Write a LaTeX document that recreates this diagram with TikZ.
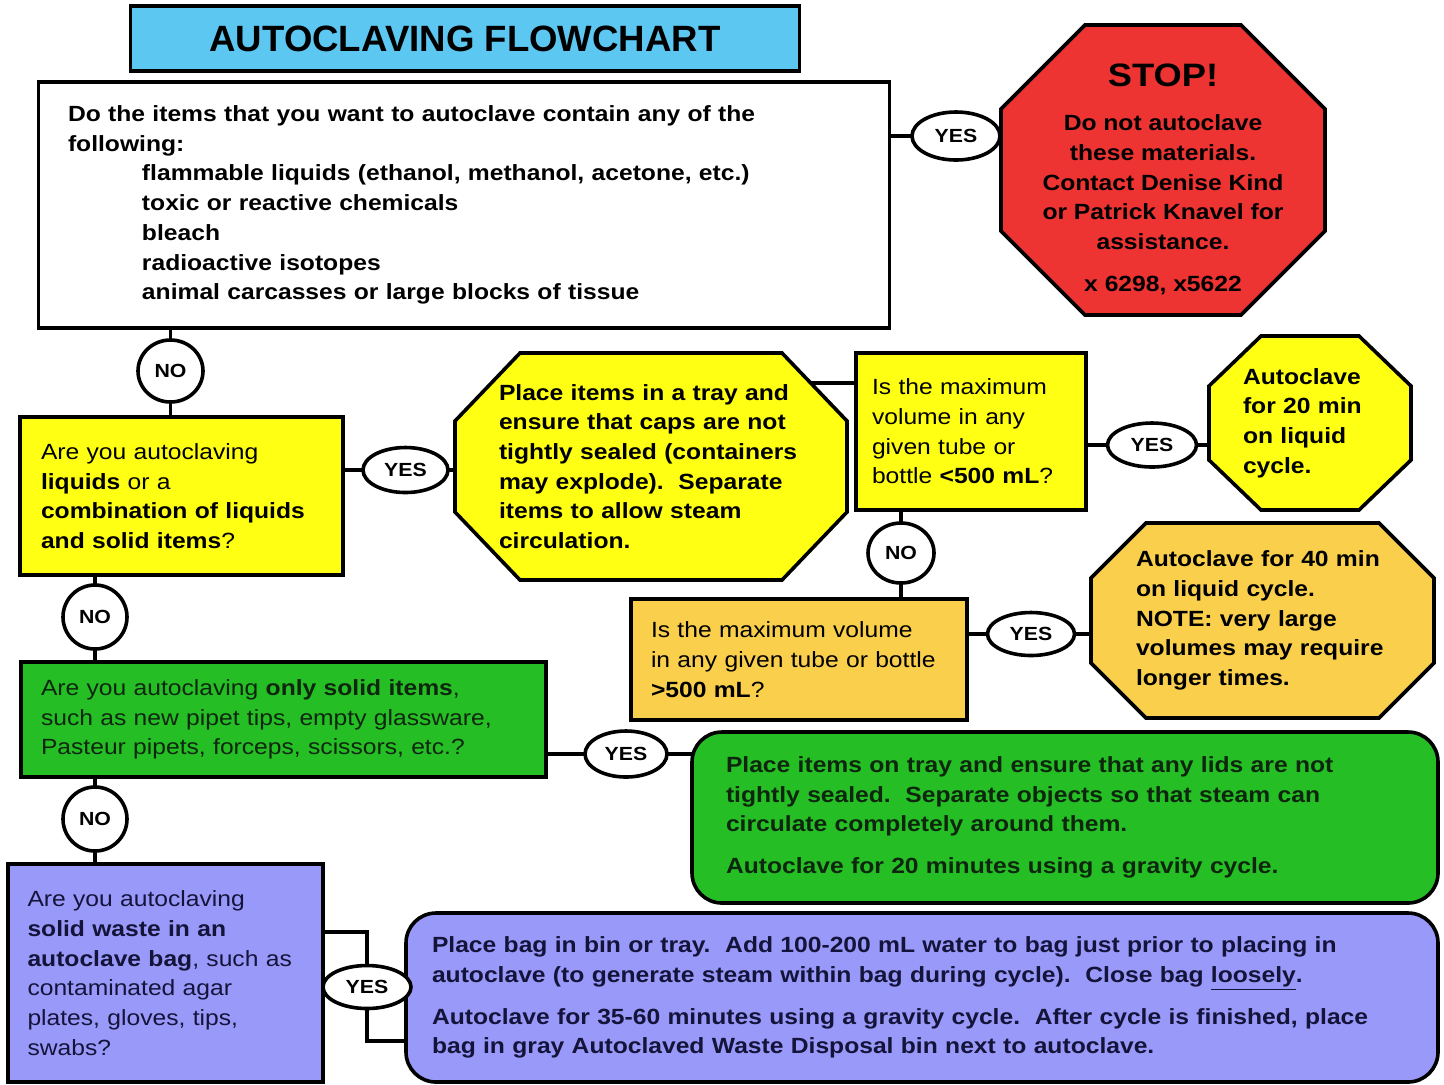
\documentclass[tikz,border=0pt]{standalone}
\usepackage{fontspec}
\setmainfont{Liberation Sans}[FakeStretch=1.12]
\newfontfamily\titlefont{Liberation Sans}
\usetikzlibrary{shapes.geometric}
\definecolor{titleblue}{HTML}{5CC8F2}
\definecolor{stopred}{HTML}{EE3333}
\definecolor{yel}{HTML}{FFFF14}
\definecolor{gold}{HTML}{F9CF4C}
\definecolor{grn}{HTML}{25BE25}
\definecolor{purp}{HTML}{9999FA}
\definecolor{grntext}{HTML}{0E260E}
\definecolor{purptext}{HTML}{14143A}
\pgfdeclarelayer{paper}
\pgfdeclarelayer{lines}
\pgfdeclarelayer{bg}
\pgfsetlayers{paper,lines,bg,main}
\newcommand\bodyfont{\fontsize{11}{14.85}\selectfont}
\newcommand\tagfont{\fontsize{9.5}{11}\selectfont\bfseries}
\newcommand\octshape[4]{%
\begin{pgfonlayer}{bg}
\draw[line width=1.8pt, line join=miter, fill=#4]
 ([xshift=#2]#1.north west) -- ([xshift=-#2]#1.north east) --
 ([yshift=-#3]#1.north east) -- ([yshift=#3]#1.south east) --
 ([xshift=-#2]#1.south east) -- ([xshift=#2]#1.south west) --
 ([yshift=#3]#1.south west) -- ([yshift=-#3]#1.north west) -- cycle;
\end{pgfonlayer}}
\tikzset{
 base/.style={line width=1.8pt, inner sep=0pt, outer sep=0pt, align=left, font=\bodyfont},
 box/.style={base, draw, rectangle},
 octnode/.style={base, rectangle},
 tag/.style={draw, fill=white, ellipse, line width=1.8pt, inner sep=0pt, font=\tagfont},
 link/.style={line width=1.8pt},
}
\begin{document}
\begin{tikzpicture}[x=0.5pt,y=-0.5pt]
\useasboundingbox (0,0) rectangle (1444,1084);
\begin{pgfonlayer}{paper}
\fill[white] (0,0) rectangle (1444,1084);
\end{pgfonlayer}

% title
\node[box, fill=titleblue, minimum width=334.5pt, minimum height=32.5pt, align=center,
  font={\titlefont\bfseries\fontsize{18.3}{20}\selectfont}] (title) at (465,38.5) {AUTOCLAVING FLOWCHART};

% first question
\node[box, fill=white, minimum width=425.5pt, minimum height=123pt, text width=396pt, font=\bodyfont\bfseries] (q1) at (464,205)
{Do the items that you want to autoclave contain any of the\\
following:\\
\hspace*{37pt}flammable liquids (ethanol, methanol, acetone, etc.)\\
\hspace*{37pt}toxic or reactive chemicals\\
\hspace*{37pt}bleach\\
\hspace*{37pt}radioactive isotopes\\
\hspace*{37pt}animal carcasses or large blocks of tissue};

% stop sign
\node[octnode, minimum width=162pt, minimum height=145pt] (stop) at (1163,170) {};
\octshape{stop}{42pt}{42pt}{stopred}
\node[base, align=center, font={\fontsize{16.2}{18}\selectfont\bfseries}] (stoptitle) at (1163,75) {STOP!};
\node[base, align=center, font=\bodyfont\bfseries] (stopbody) at (1163,205) {Do not autoclave\\
these materials.\\
Contact Denise Kind\\
or Patrick Knavel for\\
assistance.\\[6.2pt]
x 6298, x5622};

% liquids question
\node[box, fill=yel, minimum width=161.5pt, minimum height=79pt, text width=140.5pt] (q2) at (181.5,496)
{Are you autoclaving\\
\textbf{liquids} or a\\
\textbf{combination of liquids}\\
\textbf{and solid items}?};

% tray octagon
\node[octnode, minimum width=196pt, minimum height=113.5pt, text width=152pt, font=\bodyfont\bfseries] (oct1) at (651,466.5)
{Place items in a tray and\\
ensure that caps are not\\
tightly sealed (containers\\
may explode).\ \ Separate\\
items to allow steam\\
circulation.};
\octshape{oct1}{32.5pt}{34pt}{yel}

% < 500 mL question
\node[box, fill=yel, minimum width=115pt, minimum height=78.5pt, text width=99pt] (box3) at (971,431.5)
{Is the maximum\\
volume in any\\
given tube or\\
bottle \textbf{<500 mL}?};

% 20 min octagon
\node[octnode, minimum width=101pt, minimum height=87pt, text width=67pt, font=\bodyfont\bfseries] (oct2) at (1310,423)
{Autoclave\\
for 20 min\\
on liquid\\
cycle.};
\octshape{oct2}{26pt}{25pt}{yel}

% > 500 mL question
\node[box, fill=gold, minimum width=168pt, minimum height=60.5pt, text width=148pt] (box4) at (799,659.5)
{Is the maximum volume\\
in any given tube or bottle\\
\textbf{>500 mL}?};

% 40 min octagon
\node[octnode, minimum width=171.5pt, minimum height=97.5pt, text width=126.5pt, font=\bodyfont\bfseries] (oct3) at (1262.5,620.5)
{Autoclave for 40 min\\
on liquid cycle.\\
NOTE: very large\\
volumes may require\\
longer times.};
\octshape{oct3}{27.5pt}{27.5pt}{gold}

% solid items question
\node[box, fill=grn, text=grntext, minimum width=262.5pt, minimum height=57.5pt, text width=242.5pt] (box5) at (283.5,719.5)
{Are you autoclaving \textbf{only solid items},\\
such as new pipet tips, empty glassware,\\
Pasteur pipets, forceps, scissors, etc.?};

% solid items action
\node[box, fill=grn, text=grntext, rounded corners=15pt, minimum width=373pt, minimum height=85.5pt, text width=339pt, font=\bodyfont\bfseries] (grnr) at (1065,817.5)
{Place items on tray and ensure that any lids are not\\
tightly sealed.\ \ Separate objects so that steam can\\
circulate completely around them.\\[6.2pt]
Autoclave for 20 minutes using a gravity cycle.};

% waste bag question
\node[box, fill=purp, text=purptext, minimum width=157.5pt, minimum height=109pt, text width=138pt] (box6) at (165.5,973)
{Are you autoclaving\\
\textbf{solid waste in an}\\
\textbf{autoclave bag}, such as\\
contaminated agar\\
plates, gloves, tips,\\
swabs?};

% waste bag action
\node[box, fill=purp, text=purptext, rounded corners=15pt, minimum width=516pt, minimum height=84.5pt, text width=490pt, font=\bodyfont\bfseries] (prpr) at (922,997.5)
{Place bag in bin or tray.\ \ Add 100-200 mL water to bag just prior to placing in\\
autoclave (to generate steam within bag during cycle).\ \ Close bag \underline{loosely}.\\[6.2pt]
Autoclave for 35-60 minutes using a gravity cycle.\ \ After cycle is finished, place\\
bag in gray Autoclaved Waste Disposal bin next to autoclave.};

% YES / NO tags
\node[tag, minimum width=44pt, minimum height=24pt] (yesA) at (956,136) {YES};
\node[tag, minimum width=32.5pt, minimum height=31pt] (noA) at (170.5,371) {NO};
\node[tag, minimum width=42.5pt, minimum height=22.5pt] (yesB) at (405.5,470) {YES};
\node[tag, minimum width=44.5pt, minimum height=22pt] (yesC) at (1152,445) {YES};
\node[tag, minimum width=33pt, minimum height=30pt] (noC) at (901,553) {NO};
\node[tag, minimum width=43.5pt, minimum height=21.5pt] (yesD) at (1031,634) {YES};
\node[tag, minimum width=32pt, minimum height=32pt] (noB) at (95,617) {NO};
\node[tag, minimum width=41pt, minimum height=23pt] (yesE) at (626,754) {YES};
\node[tag, minimum width=32pt, minimum height=32pt] (noD) at (95,819) {NO};
\node[tag, minimum width=44pt, minimum height=21.5pt] (yesF) at (367,987) {YES};

\coordinate (lvl1) at (0,383);
\coordinate (bt) at (0,932);
\coordinate (bb) at (0,1041);

% connectors
\begin{pgfonlayer}{lines}
\draw[link] (q1 |- yesA) -- (stop |- yesA);
\draw[link] (noA |- q1) -- (noA |- q2);
\draw[link] (q2 |- yesB) -- (oct1 |- yesB);
\draw[link] (box3 |- lvl1) -- (oct1 |- lvl1);
\draw[link] (box3 |- yesC) -- (oct2 |- yesC);
\draw[link] (noC |- box3) -- (noC |- box4);
\draw[link] (box4 |- yesD) -- (oct3 |- yesD);
\draw[link] (noB |- q2) -- (noB |- box5);
\draw[link] (box5 |- yesE) -- (grnr |- yesE);
\draw[link] (noD |- box5) -- (noD |- box6);
\draw[link] (box6 |- bt) -| (yesF);
\draw[link] (yesF) |- (prpr |- bb);
\end{pgfonlayer}
\end{tikzpicture}
\end{document}
